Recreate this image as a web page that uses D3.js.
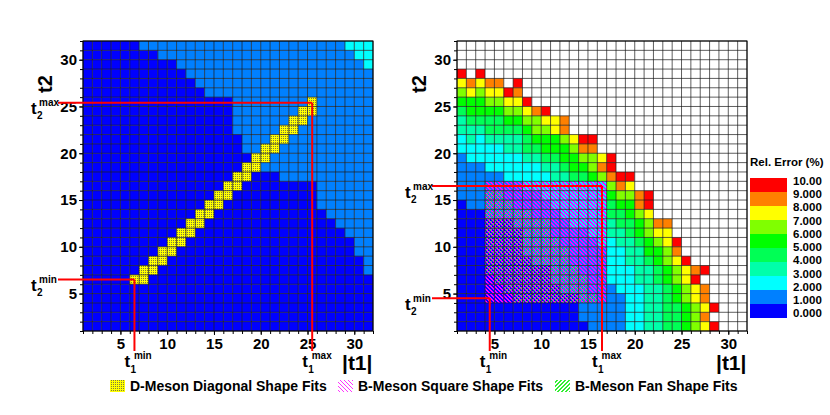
<!DOCTYPE html>
<html>
<head>
<meta charset="utf-8">
<script src="https://cdn.jsdelivr.net/npm/d3@7"></script>
<style>
  body { margin: 0; background: #fff; }
  text { font-family: "Liberation Sans", Arial, sans-serif; font-weight: bold; fill: #000; }
</style>
</head>
<body>
<svg width="830" height="415"></svg>
<script>
// axis ticks
const t1Ticks = [5, 10, 15, 20, 25, 30]
const t2Ticks = [5, 10, 15, 20, 25, 30]

// colour bins of the relative error (%)
const errorBins = [1, 2, 3, 4, 5, 6, 7, 8, 9]
const binColors = ["#0000ff", "#0080ff", "#00ffff", "#00ffaa", "#00ff55", "#00ff00", "#80ff00", "#ffff00", "#ff8000", "#ff0000"]
const legendLabels = ["0.000", "1.000", "2.000", "3.000", "4.000", "5.000", "6.000", "7.000", "8.000", "9.000", "10.00"]

// D-meson panel: one string per row, top row is t2 = 31, column k is t1 = k + 1
// digit = error bin (0 -> 0-1 %, 1 -> 1-2 % ...), d = diagonal shape fit cell
const dMesonRows = [
    "0000001111111111111111111111222",
    "0000000011111111111111111111122",
    "0000000000111111111111111111112",
    "0000000000011111111111111111111",
    "0000000000001111111111111111111",
    "0000000000000111111111111111111",
    "000000000000000011111111d111111",
    "00000000000000001111111dd111111",
    "0000000000000000111111dd1111111",
    "000000000000000011111dd11111111",
    "00000000000000000111dd111111111",
    "0000000000000000011dd1111111111",
    "000000000000000000dd11111111111",
    "00000000000000000dd111111111111",
    "0000000000000000dd0001111111111",
    "000000000000000dd00000000111111",
    "00000000000000dd000000000111111",
    "0000000000000dd0000000000111111",
    "000000000000dd00000000000011111",
    "00000000000dd000000000000001111",
    "0000000000dd0000000000000000111",
    "000000000dd00000000000000000011",
    "00000000dd000000000000000000011",
    "0000000dd0000000000000000000001",
    "000000dd00000000000000000000001",
    "00000dd000000000000000000000000",
    "0000000000000000000000000000000",
    "0000000000000000000000000000000",
    "0000000000000000000000000000000",
    "0000000000000000000000000000000",
    "0000000000000000000000000000000"
]

// B-meson panel, same layout, "." = no value
const bMesonRows = [
    "",
    "",
    "",
    "9.9",
    "78788.9",
    "6767798",
    "55566779",
    "4555566789",
    "344445566778",
    "333444456678",
    "232333345556799",
    "222223344555688",
    "12222223344556679",
    "11122222233455689",
    "1111122222334456899",
    "1111111222222222687",
    "111111111222222256689",
    "011111111122222245589",
    "000111111112222244567",
    "00000011111122223445688",
    "00000001111111223345677",
    "000000011111111223345679",
    "000000011111111122335568",
    "0000000011111111223345679",
    "000000000011111122233456789",
    "00000000001111112223345679",
    "000000000001111112223345678",
    "000000000000011111223345678",
    "0000000000000111112233445679",
    "000000000000011111223344568",
    "0000000000000011112233445679"
]

// B-meson fit shapes, rows t2 = 16 .. 4, columns t1 = 4 .. 16
// s = square shape only, f = square + fan shape
const bShapeT1Start = 4
const bShapeT2Top = 16
const bShapeRows = [
    "sssssssssssss",
    "ffsssssssssss",
    "fffssssssssss",
    "fffffssssssss",
    "fffffffssssss",
    "fffffffssssss",
    "ffffffffsssss",
    "fffffffffssss",
    "fffffffffssss",
    "ffffffffffsss",
    "sffffffffffss",
    "ssfffffffffss",
    "sssfffffffffs"
]

// fit windows [min, max]
const dWindowT1 = [6.5, 25.5]
const dWindowT2 = [6.5, 25.4]
const bWindowT1 = [4.5, 16.5]
const bWindowT2 = [4.5, 16.5]

const svg = d3.select('svg')
const plotTop = 41, plotBottom = 331, plotW = 290

// pixel patterns
const defs = svg.append('defs')
function pixelPattern(id, size, bg, color, test) {
    const p = defs.append('pattern').attr('id', id).attr('patternUnits', 'userSpaceOnUse')
        .attr('width', size).attr('height', size)
    if (bg) p.append('rect').attr('width', size).attr('height', size).attr('fill', bg)
    const px = []
    d3.range(size).forEach(i => d3.range(size).forEach(j => { if (test(i, j)) px.push([i, j]) }))
    p.selectAll('rect.px').data(px).enter().append('rect')
        .attr('x', d => d[0]).attr('y', d => d[1]).attr('width', 1).attr('height', 1)
        .attr('fill', color).attr('shape-rendering', 'crispEdges')
}
pixelPattern('dmeson', 2, '#ffff00', '#7d7d3c', (i, j) => (i + j) % 2 === 1 && i === 1)
pixelPattern('bsquare', 4, null, '#ff00ff', (i, j) => ((i - j + 8) % 4) < 2)
pixelPattern('bfan', 4, null, '#33ee33', (i, j) => ((i + j) % 4) === 0)
pixelPattern('bsquareKey', 4, '#ffffff', '#ff33ff', (i, j) => ((i - j + 8) % 4) === 0)
pixelPattern('bfanKey', 4, '#ffffff', '#33ee33', (i, j) => ((i + j) % 4) < 2)

const colorScale = d3.scaleThreshold().domain(errorBins).range(binColors)

function cellFill(ch) {
    if (ch === '.') return '#ffffff'
    if (ch === 'd') return 'url(#dmeson)'
    return colorScale(+ch + 0.5)
}

function tLabel(g, x, y, sub, sup, subDy, supDx) {
    g.append('text').attr('x', x).attr('y', y).attr('font-size', 17).text('t')
    g.append('text').attr('x', x + 6).attr('y', y + subDy).attr('font-size', 10).text(sub)
    g.append('text').attr('x', x + supDx).attr('y', y - 8).attr('font-size', 10).text(sup)
}

function drawPanel(x0, rows, winT1, winT2, withShapes) {
    const x = d3.scaleLinear().domain([1, 32]).range([x0, x0 + plotW])
    const y = d3.scaleLinear().domain([1, 32]).range([plotBottom, plotTop])
    const g = svg.append('g')

    const cells = []
    rows.forEach((row, r) => {
        row.padEnd(31, '.').split('').forEach((ch, c) => {
            cells.push({ t1: c + 1, t2: 31 - r, v: ch })
        })
    })

    g.selectAll('rect.cell')
        .data(cells)
        .enter()
        .append('rect')
        .attr('class', 'cell')
        .attr('x', d => x(d.t1))
        .attr('y', d => y(d.t2 + 1))
        .attr('width', d => x(d.t1 + 1) - x(d.t1))
        .attr('height', d => y(d.t2) - y(d.t2 + 1))
        .attr('fill', d => cellFill(d.v))

    if (withShapes) {
        const shapes = []
        bShapeRows.forEach((row, r) => {
            row.split('').forEach((ch, c) => {
                shapes.push({ t1: bShapeT1Start + c, t2: bShapeT2Top - r, v: ch })
            })
        })
        g.selectAll('rect.sq')
            .data(shapes)
            .enter()
            .append('rect')
            .attr('x', d => x(d.t1))
            .attr('y', d => y(d.t2 + 1))
            .attr('width', d => x(d.t1 + 1) - x(d.t1))
            .attr('height', d => y(d.t2) - y(d.t2 + 1))
            .attr('fill', 'url(#bsquare)')
        g.selectAll('rect.fan')
            .data(shapes.filter(d => d.v === 'f'))
            .enter()
            .append('rect')
            .attr('x', d => x(d.t1))
            .attr('y', d => y(d.t2 + 1))
            .attr('width', d => x(d.t1 + 1) - x(d.t1))
            .attr('height', d => y(d.t2) - y(d.t2 + 1))
            .attr('fill', 'url(#bfan)')
    }

    // cell borders
    const lines = d3.range(1, 33)
    g.selectAll('line.v').data(lines).enter().append('line')
        .attr('x1', d => x(d)).attr('x2', d => x(d))
        .attr('y1', plotTop).attr('y2', plotBottom)
        .attr('stroke', '#1a1a1a').attr('stroke-width', 0.7)
    g.selectAll('line.h').data(lines).enter().append('line')
        .attr('y1', d => y(d)).attr('y2', d => y(d))
        .attr('x1', x0).attr('x2', x0 + plotW)
        .attr('stroke', '#1a1a1a').attr('stroke-width', 0.7)
    g.append('rect').attr('x', x0).attr('y', plotTop).attr('width', plotW)
        .attr('height', plotBottom - plotTop).attr('fill', 'none')
        .attr('stroke', '#000').attr('stroke-width', 1)

    // axes
    const minorX = g.append('g').attr('transform', `translate(0,${plotBottom})`)
        .call(d3.axisBottom(x).tickValues(d3.range(1, 33)).tickSize(3).tickFormat(''))
    const minorY = g.append('g').attr('transform', `translate(${x0},0)`)
        .call(d3.axisLeft(y).tickValues(d3.range(1, 33)).tickSize(3).tickFormat(''))
    const ax = g.append('g').attr('transform', `translate(0,${plotBottom})`)
        .call(d3.axisBottom(x).tickValues(t1Ticks).tickSize(4).tickPadding(3))
    const ay = g.append('g').attr('transform', `translate(${x0},0)`)
        .call(d3.axisLeft(y).tickValues(t2Ticks).tickSize(4).tickPadding(2))
    ;[minorX, minorY, ax, ay].forEach(a => {
        a.select('.domain').remove()
        a.selectAll('line').attr('stroke', '#000')
        a.attr('font-family', null).attr('font-size', 15)
    })

    // axis titles
    g.append('text')
        .attr('transform', `translate(${x0 - 31},84) rotate(-90)`)
        .attr('text-anchor', 'middle').attr('font-size', 20).text('t2')
    g.append('text').attr('x', x0 + plotW - 31).attr('y', 370)
        .attr('font-size', 21).text('|t1|')

    // fit windows
    const red = '#ff0000'
    ;[0, 1].forEach(k => {
        g.append('line')
            .attr('x1', x0 - 25).attr('x2', x(winT1[k]))
            .attr('y1', y(winT2[k])).attr('y2', y(winT2[k]))
            .attr('stroke', red).attr('stroke-width', 2)
        g.append('line')
            .attr('x1', x(winT1[k])).attr('x2', x(winT1[k]))
            .attr('y1', y(winT2[k])).attr('y2', 351)
            .attr('stroke', red).attr('stroke-width', 2)
    })
    tLabel(g, x(winT1[0]) - 10, 367, '1', 'min', 5.5, 9.5)
    tLabel(g, x(winT1[1]) - 10, 367, '1', 'max', 5.5, 9.5)
    tLabel(g, x0 - 52, y(winT2[0]) + 11.5, '2', 'min', 5, 8)
    tLabel(g, x0 - 52, y(winT2[1]) + 11.5, '2', 'max', 5, 8)
}

drawPanel(83, dMesonRows, dWindowT1, dWindowT2, false)
drawPanel(457, bMesonRows, bWindowT1, bWindowT2, true)

// colour bar
const lyBand = d3.scaleLinear().domain([0, 10]).range([318, 178])
const lyText = d3.scaleLinear().domain([0, 10]).range([313.3, 180.7])
const cb = svg.append('g')
cb.selectAll('rect')
    .data(binColors)
    .enter()
    .append('rect')
    .attr('x', 750)
    .attr('y', (d, i) => lyBand(i + 1))
    .attr('width', 37)
    .attr('height', (d, i) => lyBand(i) - lyBand(i + 1))
    .attr('fill', d => d)
cb.selectAll('text.lab')
    .data(legendLabels)
    .enter()
    .append('text')
    .attr('x', 793)
    .attr('y', (d, i) => lyText(i))
    .attr('dy', '0.36em')
    .attr('font-size', 11.5)
    .text(d => d)
cb.append('text').attr('x', 750).attr('y', 166).attr('font-size', 11.5).text('Rel. Error (%)')

// shape legend
const shapeLegend = [
    { label: 'D-Meson Diagonal Shape Fits', fill: 'url(#dmeson)', x: 110 },
    { label: 'B-Meson Square Shape Fits', fill: 'url(#bsquareKey)', x: 338 },
    { label: 'B-Meson Fan Shape Fits', fill: 'url(#bfanKey)', x: 555 }
]
const lg = svg.append('g').selectAll('g').data(shapeLegend).enter().append('g')
lg.append('rect').attr('x', d => d.x).attr('y', 380).attr('width', 15).attr('height', 12)
    .attr('fill', d => d.fill)
lg.append('text').attr('x', d => d.x + 20).attr('y', 391).attr('font-size', 14).text(d => d.label)
</script>
</body>
</html>
